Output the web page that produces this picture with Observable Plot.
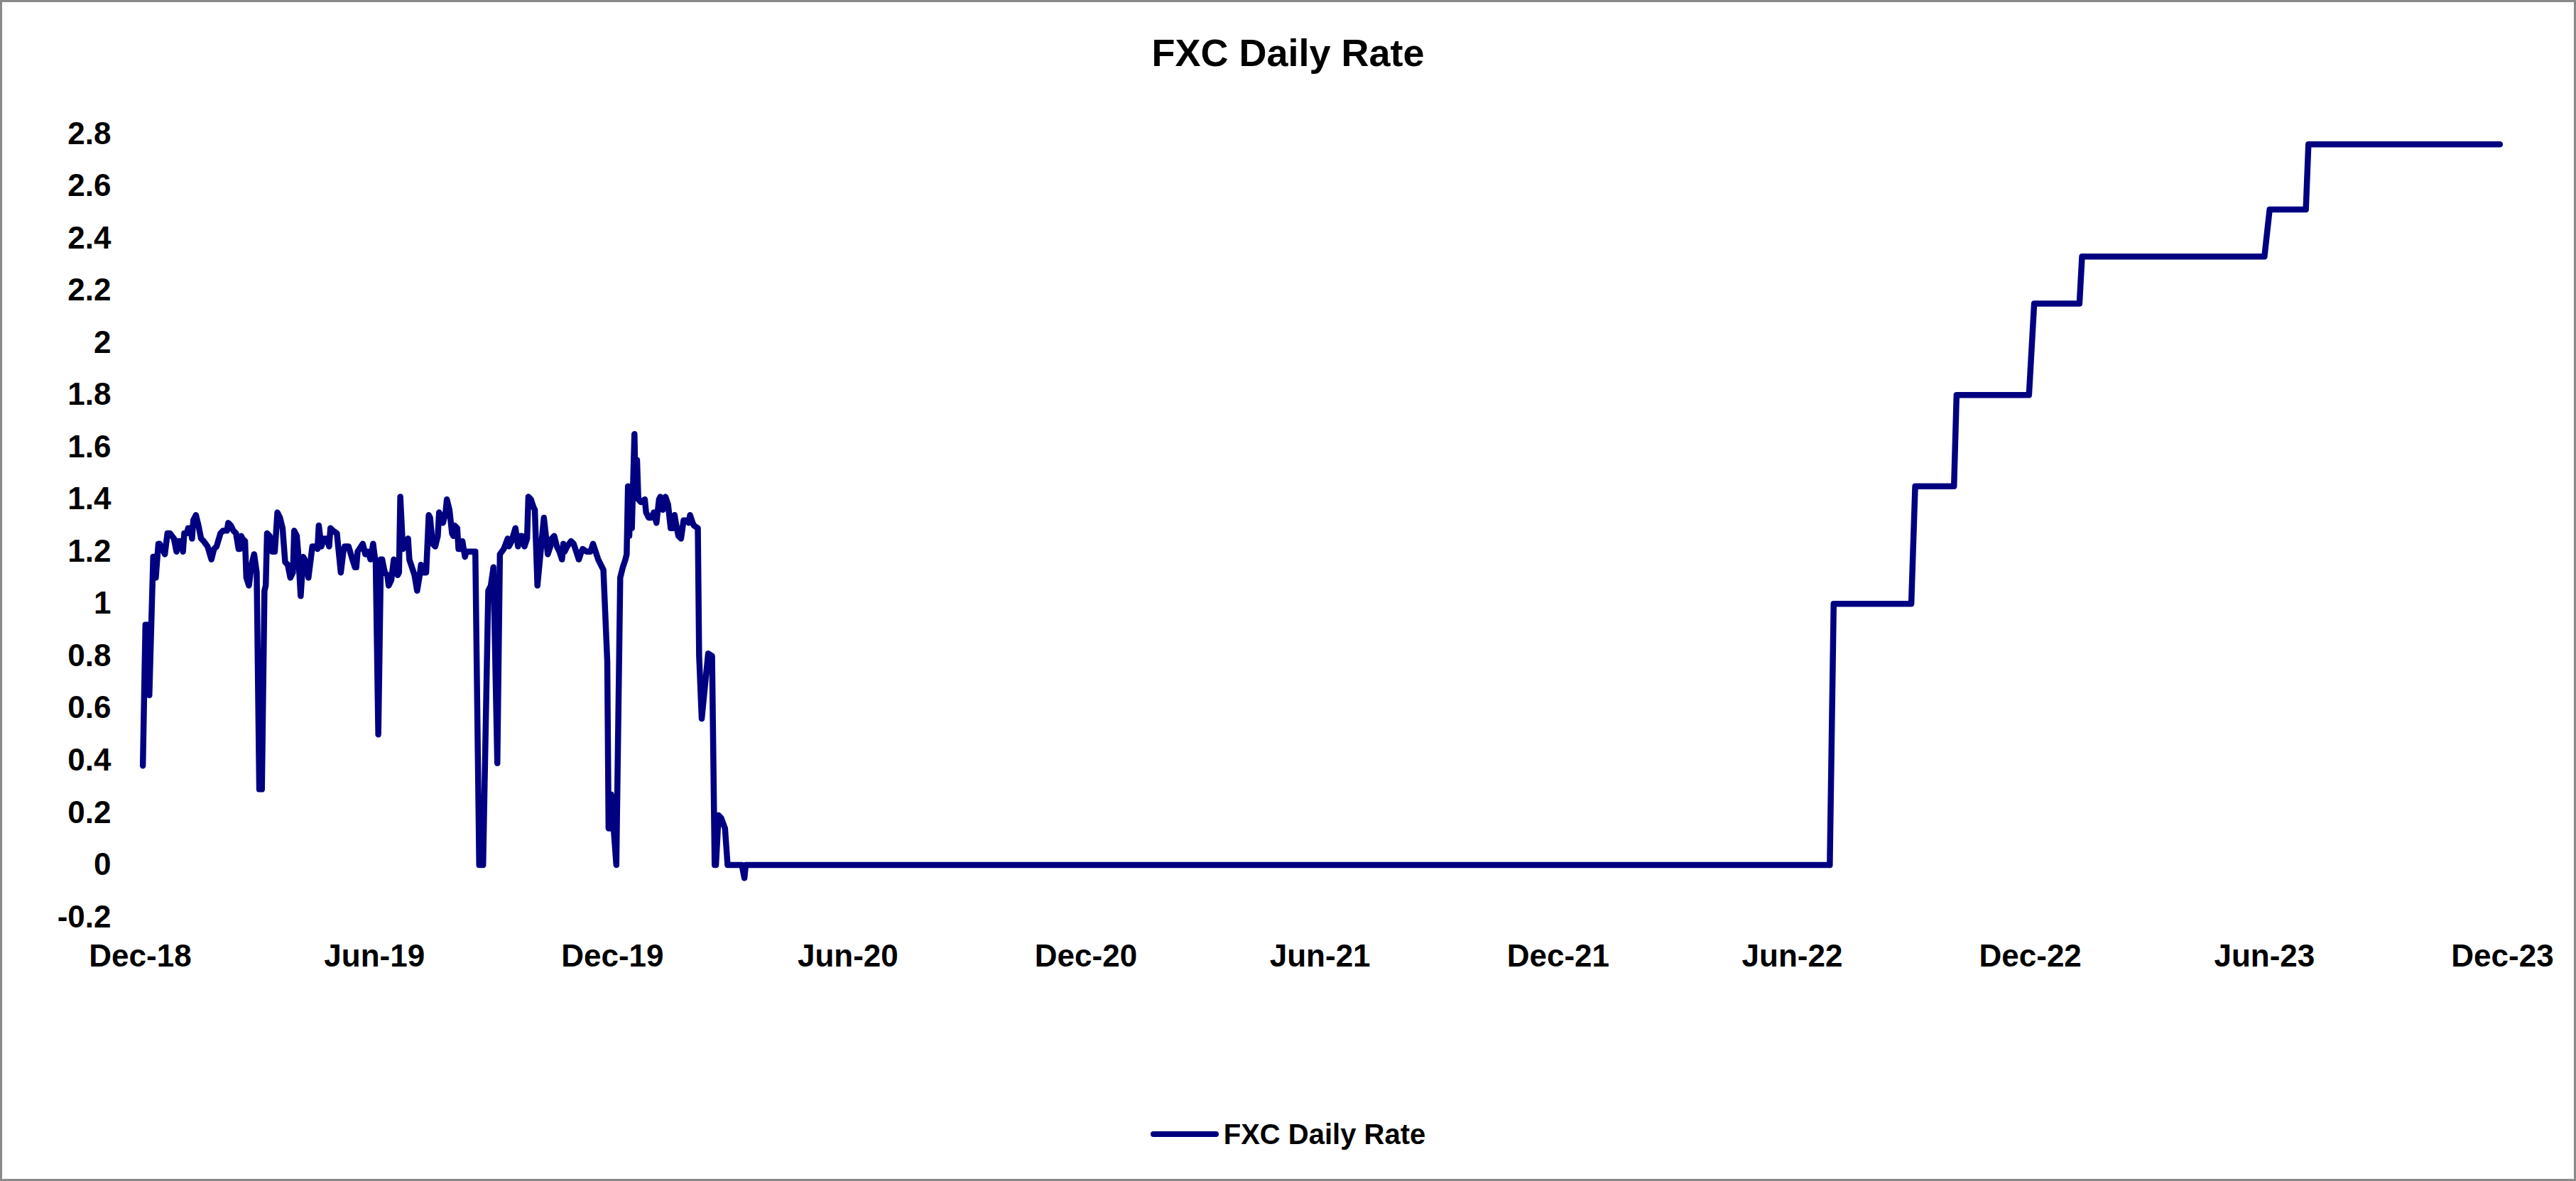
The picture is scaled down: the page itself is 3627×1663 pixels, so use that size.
<!DOCTYPE html>
<html>
<head>
<meta charset="utf-8">
<script src="https://cdn.jsdelivr.net/npm/d3@7"></script>
<script src="https://cdn.jsdelivr.net/npm/@observablehq/plot@0.6"></script>
<style>
  html, body { margin: 0; padding: 0; background: #fff; }
  body { width: 3627px; height: 1663px; position: relative; overflow: hidden;
         font-family: "Liberation Sans", Arial, sans-serif; font-weight: bold; color: #000; }
  #frame { position: absolute; left: 0; top: 0; width: 3627px; height: 1663px;
           box-sizing: border-box; border: 3px solid #898989; pointer-events: none; }
  #title { position: absolute; left: 0; width: 3627px; top: 47px; text-align: center;
           font-size: 54px; line-height: 54px; }
  #chart { position: absolute; left: 0; top: 120px; }
  #legend { position: absolute; left: 0; width: 3627px; top: 1577px; display: flex;
            justify-content: center; align-items: center; font-size: 40px; line-height: 40px; }
  #legend .swatch { display: inline-block; width: 96px; height: 8px; border-radius: 4px;
                    background: #000080; margin-right: 7px; }
</style>
</head>
<body>
<div id="title">FXC Daily Rate</div>
<div id="chart"></div>
<div id="legend"><span class="swatch"></span><span>FXC Daily Rate</span></div>
<div id="frame"></div>
<script>
// ---- Data ----
const seriesName = "FXC Daily Rate";

const dates2019 = [
  "2019-01-02","2019-01-04","2019-01-06","2019-01-07","2019-01-10","2019-01-11","2019-01-12","2019-01-14","2019-01-15","2019-01-19",
  "2019-01-21","2019-01-23","2019-01-26","2019-01-28","2019-01-29","2019-01-31","2019-02-02","2019-02-03","2019-02-05","2019-02-06",
  "2019-02-08","2019-02-09","2019-02-10","2019-02-12","2019-02-14","2019-02-16","2019-02-18","2019-02-21","2019-02-24","2019-02-26",
  "2019-02-28","2019-03-03","2019-03-05","2019-03-08","2019-03-09","2019-03-11","2019-03-13","2019-03-15","2019-03-17","2019-03-18",
  "2019-03-19","2019-03-20","2019-03-22","2019-03-23","2019-03-25","2019-03-27","2019-03-29","2019-03-31","2019-04-02","2019-04-04",
  "2019-04-06","2019-04-07","2019-04-08","2019-04-10","2019-04-12","2019-04-14","2019-04-16","2019-04-18","2019-04-20","2019-04-22",
  "2019-04-24","2019-04-26","2019-04-28","2019-04-29","2019-05-01","2019-05-02","2019-05-04","2019-05-06","2019-05-08","2019-05-10",
  "2019-05-13","2019-05-15","2019-05-17","2019-05-18","2019-05-20","2019-05-22","2019-05-24","2019-05-26","2019-05-27","2019-05-29",
  "2019-06-01","2019-06-04","2019-06-05","2019-06-06","2019-06-07","2019-06-08","2019-06-10","2019-06-13","2019-06-15","2019-06-16",
  "2019-06-17","2019-06-21","2019-06-23","2019-06-25","2019-06-27","2019-06-29","2019-06-30","2019-07-01","2019-07-03","2019-07-05",
  "2019-07-06","2019-07-08","2019-07-10","2019-07-11","2019-07-13","2019-07-15","2019-07-16","2019-07-18","2019-07-19","2019-07-20",
  "2019-07-22","2019-07-26","2019-07-27","2019-07-29","2019-07-31","2019-08-02","2019-08-04","2019-08-05","2019-08-07","2019-08-09",
  "2019-08-11","2019-08-12","2019-08-14","2019-08-16","2019-08-18","2019-08-19","2019-08-21","2019-08-22","2019-08-24","2019-08-25",
  "2019-08-27","2019-08-29","2019-08-30","2019-08-31","2019-09-02","2019-09-03","2019-09-04","2019-09-06","2019-09-08","2019-09-09",
  "2019-09-12","2019-09-16","2019-09-19","2019-09-22","2019-09-26","2019-09-28","2019-09-30","2019-10-03","2019-10-05","2019-10-08",
  "2019-10-11","2019-10-12","2019-10-14","2019-10-17","2019-10-19","2019-10-21","2019-10-22","2019-10-24","2019-10-26","2019-10-27",
  "2019-10-29","2019-10-31","2019-11-01","2019-11-03","2019-11-08","2019-11-10","2019-11-11","2019-11-13","2019-11-14","2019-11-16",
  "2019-11-18","2019-11-20","2019-11-22","2019-11-23","2019-11-24","2019-11-26","2019-11-29","2019-12-01","2019-12-03","2019-12-05",
  "2019-12-07","2019-12-08","2019-12-11","2019-12-14","2019-12-16","2019-12-18","2019-12-20","2019-12-22","2019-12-24","2019-12-27",
  "2019-12-28","2019-12-29","2019-12-30"
];
const rates2019 = [
  0.38,0.92,0.92,0.65,1.18,1.18,1.10,1.23,1.23,1.19,
  1.27,1.27,1.25,1.20,1.24,1.24,1.20,1.27,1.27,1.29,
  1.29,1.25,1.32,1.34,1.30,1.25,1.24,1.22,1.17,1.21,
  1.22,1.27,1.28,1.28,1.31,1.30,1.28,1.27,1.21,1.21,
  1.26,1.25,1.24,1.10,1.07,1.15,1.19,1.12,0.29,0.29,
  1.05,1.07,1.27,1.26,1.20,1.20,1.35,1.33,1.29,1.16,
  1.15,1.10,1.12,1.28,1.26,1.20,1.03,1.18,1.16,1.10,
  1.22,1.22,1.21,1.30,1.22,1.25,1.25,1.22,1.29,1.28,
  1.27,1.12,1.16,1.20,1.22,1.22,1.22,1.17,1.14,1.14,
  1.20,1.23,1.19,1.20,1.17,1.23,1.19,1.16,0.50,1.17,
  1.17,1.12,1.11,1.07,1.09,1.17,1.16,1.11,1.12,1.41,
  1.21,1.25,1.17,1.14,1.11,1.05,1.11,1.15,1.12,1.12,
  1.34,1.33,1.23,1.22,1.26,1.35,1.33,1.31,1.35,1.40,
  1.36,1.27,1.26,1.30,1.29,1.21,1.21,1.24,1.18,1.20,
  1.20,1.20,0.00,0.00,1.05,1.07,1.14,0.39,1.19,1.21,
  1.25,1.22,1.24,1.29,1.22,1.26,1.26,1.22,1.25,1.41,
  1.40,1.37,1.36,1.07,1.33,1.24,1.19,1.22,1.25,1.26,
  1.22,1.20,1.17,1.23,1.20,1.22,1.24,1.23,1.20,1.17,
  1.20,1.21,1.20,1.20,1.23,1.20,1.17,1.15,1.13,0.78,
  0.14,0.14,0.27
];

const dates2020 = [
  "2020-01-03","2020-01-06","2020-01-08","2020-01-10","2020-01-11","2020-01-12","2020-01-13","2020-01-14","2020-01-15","2020-01-17",
  "2020-01-18","2020-01-19","2020-01-20","2020-01-22","2020-01-25","2020-01-26","2020-01-28","2020-01-30","2020-02-01","2020-02-03",
  "2020-02-05","2020-02-06","2020-02-08","2020-02-10","2020-02-12","2020-02-14","2020-02-16","2020-02-17","2020-02-18","2020-02-20",
  "2020-02-22","2020-02-24","2020-02-26","2020-02-28","2020-02-29","2020-03-02","2020-03-03","2020-03-06","2020-03-07","2020-03-09",
  "2020-03-14","2020-03-17","2020-03-19","2020-03-20","2020-03-22","2020-03-24","2020-03-27","2020-03-29","2020-04-09","2020-04-11",
  "2020-04-12"
];
const rates2020 = [
  0.00,1.10,1.14,1.17,1.19,1.45,1.26,1.39,1.29,1.65,
  1.41,1.55,1.40,1.39,1.40,1.35,1.33,1.33,1.35,1.31,
  1.40,1.41,1.36,1.41,1.38,1.29,1.29,1.34,1.31,1.26,
  1.25,1.32,1.32,1.31,1.34,1.31,1.30,1.29,0.80,0.56,
  0.81,0.80,0.00,0.00,0.19,0.18,0.14,0.00,0.00,-0.05,
  0.00
];

const datesSteps = [
  "2022-07-29","2022-08-01","2022-09-30","2022-10-03","2022-11-02","2022-11-04","2022-12-30","2023-01-03",
  "2023-02-07","2023-02-09","2023-06-30","2023-07-04","2023-08-01","2023-08-03","2023-12-29"
];
const ratesSteps = [
  0.00,1.00,1.00,1.45,1.45,1.80,1.80,2.15,
  2.15,2.33,2.33,2.51,2.51,2.76,2.76
];

const xTickDates = ["2018-12-31","2019-06-30","2019-12-31","2020-06-30","2020-12-31","2021-06-30",
                    "2021-12-31","2022-06-30","2022-12-31","2023-06-30","2023-12-31"];
const xTickLabels = ["Dec-18","Jun-19","Dec-19","Jun-20","Dec-20","Jun-21",
                     "Dec-21","Jun-22","Dec-22","Jun-23","Dec-23"];
const yTicks = [-0.2,0,0.2,0.4,0.6,0.8,1,1.2,1.4,1.6,1.8,2,2.2,2.4,2.6,2.8];

// ---- Build table ----
const allDates = [...dates2019, ...dates2020, ...datesSteps];
const allRates = [...rates2019, ...rates2020, ...ratesSteps];
const data = allDates.map((d, i) => ({date: new Date(d), rate: allRates[i]}));

const xTicks = xTickDates.map(d => new Date(d));
const fmtX = d => xTickLabels[xTickDates.indexOf(d3.utcFormat("%Y-%m-%d")(d))];
const fmtY = d => String(+d.toFixed(1));

const chart = Plot.plot({
  width: 3627,
  height: 1290,
  marginLeft: 197,
  marginRight: 104,
  marginTop: 68,
  marginBottom: 119,
  style: {fontFamily: "'Liberation Sans', Arial, sans-serif", fontSize: "44px", fontWeight: "bold", color: "#000", background: "transparent"},
  x: {type: "utc", domain: [new Date("2018-12-31"), new Date("2023-12-31")], label: null},
  y: {domain: [-0.2, 2.8], label: null},
  marks: [
    Plot.axisX({ticks: xTicks, tickFormat: fmtX, tickSize: 0, tickPadding: 38, fontSize: 44, fontWeight: "bold", fill: "#000", label: null}),
    Plot.axisY({ticks: yTicks, tickFormat: fmtY, tickSize: 0, tickPadding: 41, fontSize: 44, fontWeight: "bold", fill: "#000", label: null}),
    Plot.lineY(data, {x: "date", y: "rate", stroke: "#000080", strokeWidth: 8.5, strokeLinejoin: "round", strokeLinecap: "round"})
  ]
});
document.getElementById("chart").appendChild(chart);
</script>
</body>
</html>
